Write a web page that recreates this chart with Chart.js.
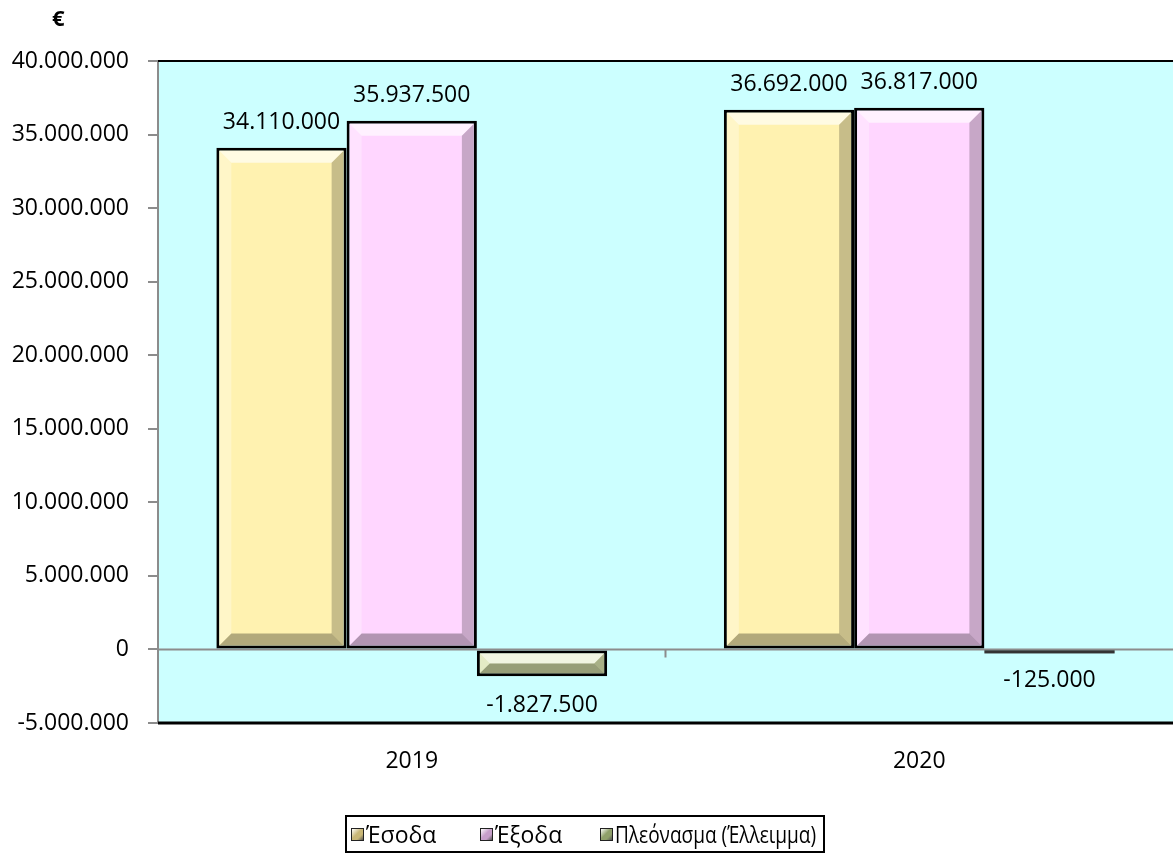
<!DOCTYPE html>
<html>
<head>
<meta charset="utf-8">
<script src="https://cdn.jsdelivr.net/npm/chart.js@4"></script>
<style>
    html, body { margin: 0; padding: 0; background: #fff; overflow: hidden; }
    #wrap { position: relative; width: 1173px; height: 854px; font-family: "Open Sans", "Noto Sans", sans-serif; }
    #euro { position: absolute; left: 52px; top: 2px; font-weight: bold; font-size: 22px; }
    #legend { position: absolute; left: 345px; top: 815px; width: 476px; height: 34px; border: 2px solid #000;
              font-size: 23px; color: #000; }
    .item { position: absolute; top: 0; height: 34px; display: flex; align-items: center; white-space: nowrap; }
    .box { width: 11px; height: 11px; border: 1px solid #222; margin-right: 2px; flex-shrink: 0; }
    .txt { display: inline-block; transform-origin: left center; }
</style>
</head>
<body>
<div id="wrap">
    <canvas id="chart" width="1173" height="854"></canvas>
    <div id="euro">€</div>
    <div id="legend"></div>
</div>
<script>
// data
const years = ["2019", "2020"];
const seriesNames = ["Έσοδα", "Έξοδα", "Πλεόνασμα (Έλλειμμα)"];
const income = [34110000, 36692000];
const expenses = [35937500, 36817000];
const balance = [-1827500, -125000];

const fillColors = ["#FFF2B0", "#FFD6FF", "#D8E2AC"];
const legendColors = ["#C9B777", "#C79FCB", "#8FA06A"];
const legendLeft = [4, 133, 253];

function fmt(n) {
    const s = String(Math.abs(n)).replace(/\B(?=(\d{3})+(?!\d))/g, ".");
    return n < 0 ? "-" + s : s;
}

// plot background, frame, zero line
const framePlugin = {
    id: "frame",
    beforeDraw(chart) {
        const { ctx, chartArea: a } = chart;
        ctx.save();
        ctx.fillStyle = "#CCFFFF";
        ctx.fillRect(a.left, a.top, a.right - a.left, a.bottom - a.top);
        ctx.restore();
    },
    beforeDatasetsDraw(chart) {
        const { ctx, chartArea: a, scales } = chart;
        const y0 = scales.y.getPixelForValue(0);
        const mid = (scales.x.getPixelForValue(0) + scales.x.getPixelForValue(1)) / 2;
        ctx.save();
        ctx.strokeStyle = "#8C8C8C";
        ctx.lineWidth = 2;
        ctx.beginPath();
        ctx.moveTo(a.left, y0);
        ctx.lineTo(a.right, y0);
        ctx.moveTo(mid, y0);
        ctx.lineTo(mid, y0 + 8);
        ctx.stroke();
        ctx.strokeStyle = "#000";
        ctx.lineWidth = 2;
        ctx.beginPath();
        ctx.moveTo(a.left, a.top);
        ctx.lineTo(a.right, a.top);
        ctx.stroke();
        ctx.lineWidth = 3;
        ctx.beginPath();
        ctx.moveTo(a.left, a.bottom);
        ctx.lineTo(a.right, a.bottom);
        ctx.stroke();
        ctx.restore();
    },
};

// bevel look on every bar + value labels
const bevelPlugin = {
    id: "bevel",
    afterDatasetsDraw(chart) {
        const ctx = chart.ctx;
        ctx.save();
        chart.data.datasets.forEach((ds, i) => {
            chart.getDatasetMeta(i).data.forEach((bar, j) => {
                const p = bar.getProps(["x", "y", "base", "width"], true);
                const bw = 3;
                const top = Math.min(p.y, p.base), bottom = Math.max(p.y, p.base);
                const l = p.x - p.width / 2 + bw, r = p.x + p.width / 2 - bw;
                const t = top + bw, b = bottom - bw;
                const s = Math.max(0, Math.min(12, (b - t) / 2, (r - l) / 2));
                if (bottom - top < 6) {
                    // very thin bar: just a dark strip
                    ctx.fillStyle = "#333";
                    ctx.fillRect(p.x - p.width / 2, top, p.width, 3);
                } else if (s > 0) {
                    const poly = (pts, c) => {
                        ctx.fillStyle = c;
                        ctx.beginPath();
                        ctx.moveTo(pts[0][0], pts[0][1]);
                        pts.slice(1).forEach((q) => ctx.lineTo(q[0], q[1]));
                        ctx.closePath();
                        ctx.fill();
                    };
                    poly([[l, t], [r, t], [r - s, t + s], [l + s, t + s]], "rgba(255,255,255,0.65)");
                    poly([[l, t], [l + s, t + s], [l + s, b - s], [l, b]], "rgba(255,255,255,0.3)");
                    poly([[r, t], [r, b], [r - s, b - s], [r - s, t + s]], "rgba(0,0,0,0.22)");
                    poly([[l, b], [r, b], [r - s, b - s], [l + s, b - s]], "rgba(0,0,0,0.3)");
                }
                const v = ds.data[j];
                ctx.fillStyle = "#000";
                ctx.font = '23px "Open Sans", sans-serif';
                ctx.textAlign = "center";
                ctx.textBaseline = "middle";
                ctx.fillText(fmt(v), p.x, v >= 0 ? p.y - 25 : p.y + 29);
            });
        });
        ctx.restore();
    },
};

const values = [income, expenses, balance];

new Chart(document.getElementById("chart"), {
    type: "bar",
    data: {
        labels: years,
        datasets: seriesNames.map((name, i) => ({
            label: name,
            data: values[i],
            backgroundColor: fillColors[i],
            borderColor: "#000",
            borderWidth: 3,
            borderSkipped: false,
            categoryPercentage: 0.77,
            barPercentage: 1,
        })),
    },
    options: {
        responsive: false,
        animation: false,
        devicePixelRatio: 1,
        layout: { padding: { top: 61, right: 0, bottom: 0, left: 0 } },
        plugins: { legend: { display: false }, tooltip: { enabled: false } },
        scales: {
            x: {
                afterFit: (s) => { s.height = 131; },
                grid: { display: false },
                border: { display: false },
                ticks: { color: "#000", font: { family: "Open Sans", size: 23 }, padding: 17 },
            },
            y: {
                min: -5000000,
                max: 40000000,
                afterFit: (s) => { s.width = 158; },
                grid: { drawOnChartArea: false, drawTicks: true, tickLength: 10, color: "#8C8C8C", lineWidth: 2 },
                border: { color: "#8C8C8C", width: 2 },
                ticks: {
                    stepSize: 5000000,
                    padding: 19,
                    color: "#000",
                    font: { family: "Open Sans", size: 23 },
                    callback: (v) => fmt(v),
                },
            },
        },
    },
    plugins: [framePlugin, bevelPlugin],
});

// html legend
const legend = document.getElementById("legend");
seriesNames.forEach((name, i) => {
    const item = document.createElement("div");
    item.className = "item";
    item.style.left = legendLeft[i] + "px";
    const box = document.createElement("span");
    box.className = "box";
    box.style.background = "linear-gradient(135deg, #fff 0%, " + legendColors[i] + " 45%, " + legendColors[i] + " 70%, #555 100%)";
    const txt = document.createElement("span");
    txt.className = "txt";
    txt.textContent = name;
    item.appendChild(box);
    item.appendChild(txt);
    legend.appendChild(item);
    // squeeze the text if it would run past the legend frame
    const room = legend.clientWidth - legendLeft[i] - 14 - 8;
    const w = txt.getBoundingClientRect().width;
    if (w > room) txt.style.transform = "scaleX(" + (room / w).toFixed(3) + ")";
});
</script>
</body>
</html>
